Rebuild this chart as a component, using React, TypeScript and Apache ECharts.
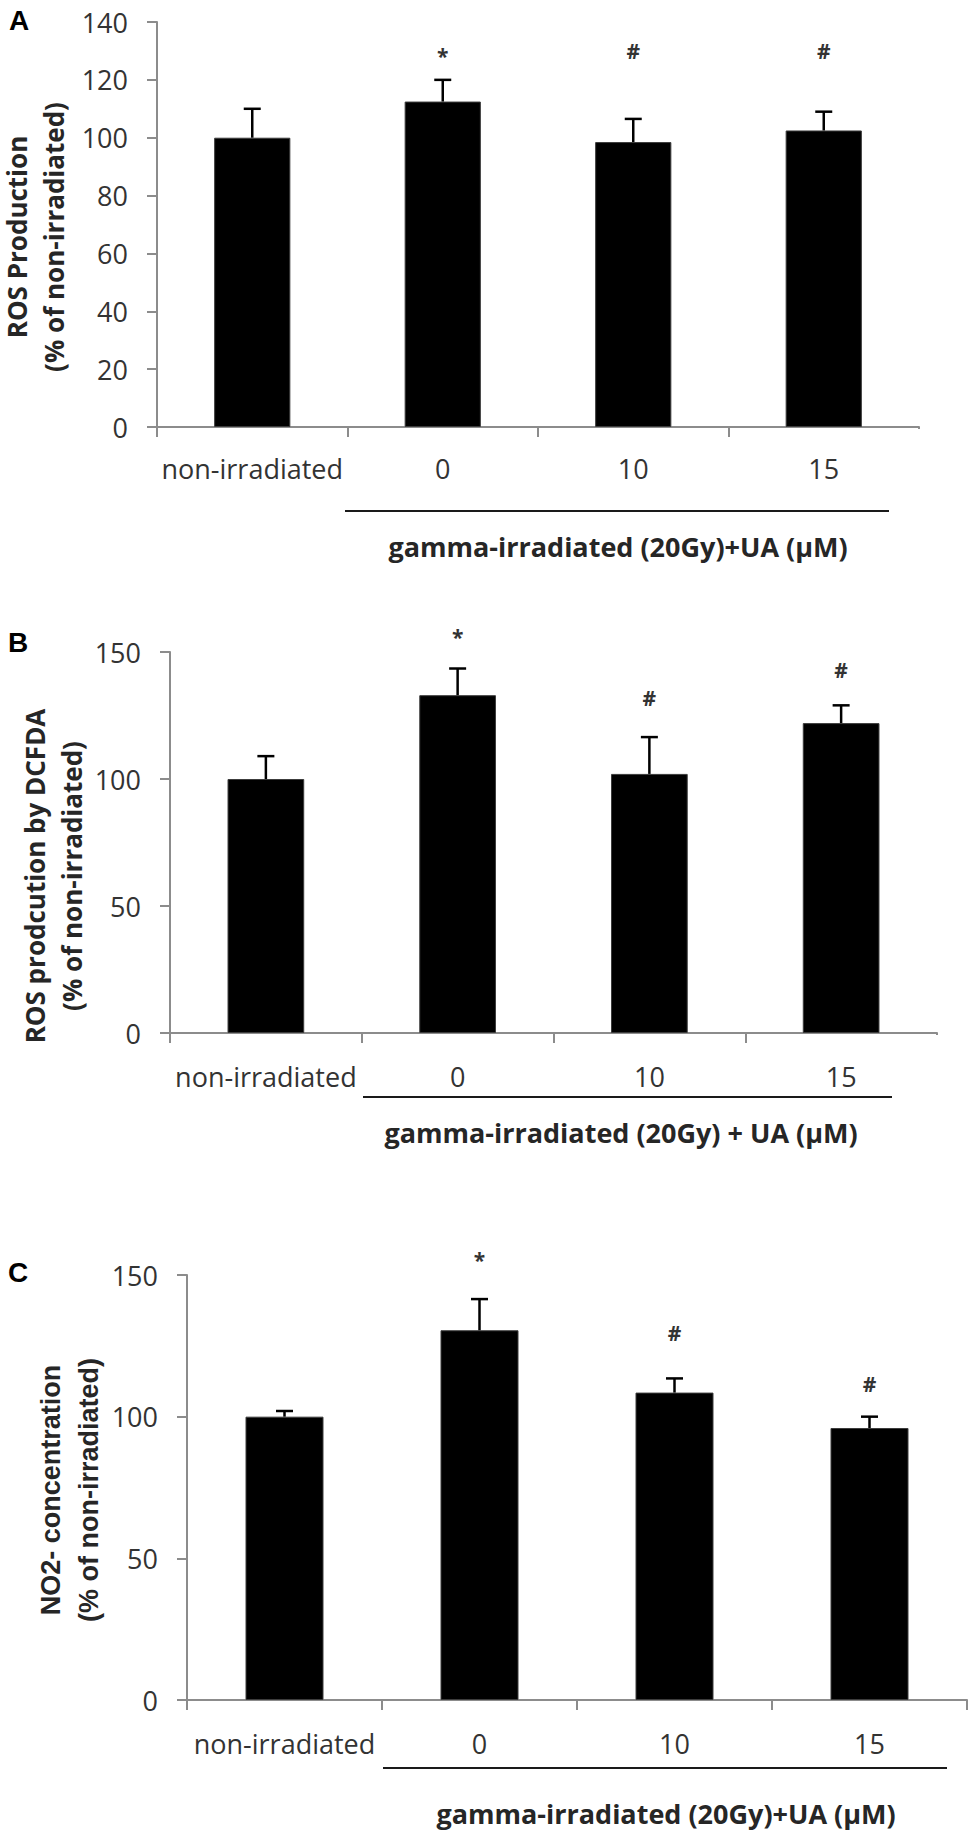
import React, { useEffect, useRef } from "react";
import * as echarts from "echarts";

// ---------- data ----------
const categories = ["non-irradiated", "0", "10", "15"];

const rosMeans = [100, 112.5, 98.5, 102.5];
const rosSD = [10, 7.5, 8, 6.5];
const rosSig = ["", "*", "#", "#"];
const rosSigAt = [0, 130, 130, 130];
const rosAxis = { max: 140, interval: 20 };

const dcfdaMeans = [100, 133, 102, 122];
const dcfdaSD = [9, 10.5, 14.5, 7];
const dcfdaSig = ["", "*", "#", "#"];
const dcfdaSigAt = [0, 158, 132, 143];
const dcfdaAxis = { max: 150, interval: 50 };

const no2Means = [100, 130.5, 108.5, 96];
const no2SD = [2, 11, 5, 4];
const no2Sig = ["", "*", "#", "#"];
const no2SigAt = [0, 157, 129.5, 111.5];
const no2Axis = { max: 150, interval: 50 };

const groupTitleA = "gamma-irradiated (20Gy)+UA (µM)";
const groupTitleB = "gamma-irradiated (20Gy) + UA (µM)";
const groupTitleC = "gamma-irradiated (20Gy)+UA (µM)";

const OPEN = '"Open Sans", sans-serif';
const AXIS_GREY = "#8c8c8c";
const TEXT = "#333333";

const panels = [
  { means: rosMeans, sd: rosSD, sig: rosSig, sigAt: rosSigAt, axis: rosAxis, grid: { left: 157, right: 51, top: 22, height: 405 }, labelMargin: 28, endTick: false },
  { means: dcfdaMeans, sd: dcfdaSD, sig: dcfdaSig, sigAt: dcfdaSigAt, axis: dcfdaAxis, grid: { left: 170, right: 33, top: 652, height: 381 }, labelMargin: 30, endTick: false },
  { means: no2Means, sd: no2SD, sig: no2Sig, sigAt: no2SigAt, axis: no2Axis, grid: { left: 187, right: 3, top: 1275, height: 425 }, labelMargin: 30, endTick: true },
];

function txt(text: string, x: number, y: number, font: string, fill: string, rotation = 0) {
  return {
    type: "text",
    x,
    y,
    rotation,
    silent: true,
    style: {
      text,
      font,
      fill,
      align: "center",
      verticalAlign: "middle",
      textAlign: "center",
      textVerticalAlign: "middle",
    },
  };
}

function hline(x1: number, x2: number, y: number) {
  return {
    type: "line",
    silent: true,
    shape: { x1, y1: y, x2, y2: y },
    style: { stroke: "#1a1a1a", lineWidth: 2 },
  };
}

export default function App() {
  const ref = useRef<HTMLDivElement>(null);

  useEffect(() => {
    if (!ref.current) return;
    const chart = echarts.init(ref.current, undefined, { renderer: "svg" });

    const grids = panels.map((p) => ({ ...p.grid, containLabel: false }));
    const xAxes = panels.map((p, i) => ({
      type: "category",
      gridIndex: i,
      data: categories,
      boundaryGap: true,
      axisLine: { show: true, lineStyle: { color: AXIS_GREY, width: 2 } },
      axisTick: { show: true, interval: 0, length: 10, lineStyle: { color: AXIS_GREY, width: 2 } },
      axisLabel: { interval: 0, margin: p.labelMargin, fontSize: 27, color: TEXT, fontFamily: OPEN },
      splitLine: { show: false },
    }));
    const yAxes = panels.map((p, i) => ({
      type: "value",
      gridIndex: i,
      min: 0,
      max: p.axis.max,
      interval: p.axis.interval,
      axisLine: { show: true, lineStyle: { color: AXIS_GREY, width: 2 } },
      axisTick: { show: true, length: 10, lineStyle: { color: AXIS_GREY, width: 2 } },
      axisLabel: { margin: 29, fontSize: 27, color: TEXT, fontFamily: OPEN },
      splitLine: { show: false },
    }));

    const series: any[] = [];
    panels.forEach((p, i) => {
      series.push({
        type: "bar",
        xAxisIndex: i,
        yAxisIndex: i,
        data: p.means,
        barWidth: "40%",
        itemStyle: { color: "#000000", borderColor: "#3c3c3c", borderWidth: 1 },
        z: 2,
      });
      series.push({
        type: "custom",
        xAxisIndex: i,
        yAxisIndex: i,
        z: 3,
        clip: false,
        data: p.means.map((m, k) => [k, m, p.sd[k]]),
        renderItem: (params: any, api: any) => {
          const x = api.value(0);
          const m = api.value(1);
          const s = api.value(2);
          const p0 = api.coord([x, m]);
          const p1 = api.coord([x, m + s]);
          const cap = 8.5;
          return {
            type: "group",
            children: [
              { type: "line", shape: { x1: p0[0], y1: p0[1], x2: p1[0], y2: p1[1] }, style: { stroke: "#000", lineWidth: 2.5 } },
              { type: "line", shape: { x1: p1[0] - cap, y1: p1[1], x2: p1[0] + cap, y2: p1[1] }, style: { stroke: "#000", lineWidth: 2.5 } },
            ],
          };
        },
      });
      const sigData = p.sig
        .map((s, k) => ({ s, k }))
        .filter((d) => d.s !== "")
        .map((d) => [d.k, p.sigAt[d.k]]);
      const sigText = p.sig.filter((s) => s !== "");
      series.push({
        type: "custom",
        xAxisIndex: i,
        yAxisIndex: i,
        z: 4,
        clip: false,
        data: sigData,
        renderItem: (params: any, api: any) => {
          const pt = api.coord([api.value(0), api.value(1)]);
          const s = sigText[params.dataIndex];
          return {
            type: "text",
            x: pt[0],
            y: pt[1] + (s === "*" ? 5 : 0),
            style: {
              text: s,
              font: `bold 21px ${OPEN}`,
              fill: TEXT,
              align: "center",
              verticalAlign: "middle",
              textAlign: "center",
              textVerticalAlign: "middle",
            },
          };
        },
      });
    });

    const letterFont = 'bold 28px "Liberation Sans", Arial, sans-serif';
    const titleFont = `bold 26px ${OPEN}`;
    const titleFontC = 'bold 27px "Liberation Sans Narrow", "Liberation Sans", sans-serif';
    const groupFont = `bold 27px ${OPEN}`;
    const dark = "#262626";
    const R = Math.PI / 2;

    // hide the trailing boundary tick where the reference has none
    const tickMasks = panels
      .filter((p) => !p.endTick)
      .map((p) => {
        const x = 970 - p.grid.right;
        const y = p.grid.top + p.grid.height;
        return {
          type: "line",
          silent: true,
          z: 100,
          shape: { x1: x, y1: y + 2, x2: x, y2: y + 12 },
          style: { stroke: "#ffffff", lineWidth: 4 },
        };
      });

    const graphic = [
      txt("A", 19, 20, letterFont, "#000"),
      txt("B", 18, 642, letterFont, "#000"),
      txt("C", 18, 1272, letterFont, "#000"),
      txt("ROS Production", 17, 237, titleFont, dark, R),
      txt("(% of non-irradiated)", 54, 237, titleFont, dark, R),
      txt("ROS prodcution by DCFDA", 35, 876, titleFont, dark, R),
      txt("(% of non-irradiated)", 72, 876, titleFont, dark, R),
      txt("NO2- concentration", 51, 1490, titleFontC, dark, R),
      txt("(% of non-irradiated)", 89, 1490, titleFontC, dark, R),
      hline(345, 889, 511),
      hline(363, 892, 1097),
      hline(383, 947, 1768),
      txt(groupTitleA, 618, 546, groupFont, dark),
      txt(groupTitleB, 621, 1132, groupFont, dark),
      txt(groupTitleC, 666, 1813, groupFont, dark),
      ...tickMasks,
    ];

    chart.setOption({
      animation: false,
      backgroundColor: "#ffffff",
      grid: grids,
      xAxis: xAxes,
      yAxis: yAxes,
      series,
      graphic,
    });

    return () => chart.dispose();
  }, []);

  return (
    <div
      ref={ref}
      style={{ position: "absolute", left: 0, top: 0, width: 970, height: 1835 }}
    />
  );
}
